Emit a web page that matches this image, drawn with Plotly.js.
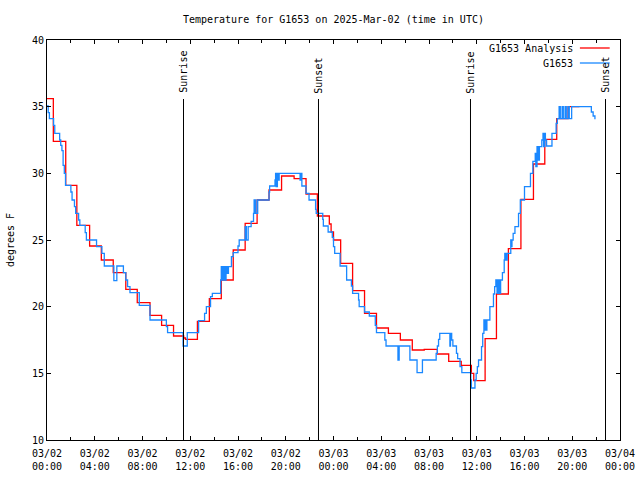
<!DOCTYPE html>
<html>
<head>
<meta charset="utf-8">
<script src="https://cdn.plot.ly/plotly-3.0.1.min.js"></script>
<style>html,body{margin:0;padding:0;background:#fff;}#chart{width:640px;height:480px;}</style>
</head>
<body>
<div id="chart"></div>
<script>
// Hours since 2025-03-02 00:00 UTC
var obsHours = [0.00,0.10,0.20,0.55,0.65,1.06,1.15,1.25,1.35,1.45,1.55,2.00,2.10,2.30,2.40,2.65,2.75,3.20,3.30,4.15,4.60,4.80,5.60,5.85,6.40,6.60,6.75,6.95,7.73,8.63,10.00,10.10,11.40,11.75,12.70,13.20,13.35,13.70,13.85,14.55,14.60,14.70,14.80,14.90,15.00,15.10,15.20,15.45,15.60,16.00,16.10,16.60,16.70,16.85,17.10,17.30,17.35,17.40,17.45,17.50,17.65,18.60,18.65,19.10,19.15,19.20,19.30,19.35,19.45,21.20,21.25,21.35,21.70,21.95,22.50,22.55,23.10,23.15,23.55,23.90,24.00,24.10,24.55,25.10,25.50,25.60,26.10,26.15,26.60,27.00,27.50,27.60,28.30,28.40,29.40,29.50,30.40,31.00,31.45,32.60,32.70,32.80,32.90,33.75,33.80,33.90,34.00,34.30,34.40,34.60,34.75,35.50,35.55,35.85,35.95,36.05,36.15,36.40,36.50,36.60,36.65,36.75,36.80,36.85,37.10,37.40,37.50,37.60,37.70,37.80,37.90,38.00,38.15,38.30,38.35,38.45,38.55,38.85,38.90,38.95,39.05,39.20,39.50,39.65,40.00,40.50,40.70,40.90,40.95,41.05,41.15,41.25,41.45,41.55,41.60,41.70,41.75,41.85,42.30,42.65,42.75,42.90,43.00,43.15,43.25,43.40,43.50,43.65,43.75,43.95,45.60,45.75,45.90];
var obsTemps = [35.05,34.55,34.10,33.60,33.00,32.50,32.10,31.70,30.60,30.00,29.10,28.60,28.00,27.50,27.00,26.50,26.10,25.55,25.00,24.50,24.00,23.05,21.95,23.05,22.55,22.00,21.50,21.05,20.10,19.00,18.50,18.05,17.05,18.05,18.95,19.50,20.00,20.75,21.00,22.00,23.00,22.00,23.00,22.00,23.00,22.50,23.00,23.75,24.05,24.55,25.00,26.00,25.00,26.00,26.40,27.00,28.00,27.00,28.00,27.00,28.00,28.60,29.05,29.50,30.00,29.00,30.00,29.50,30.00,29.50,30.00,29.05,28.50,28.00,27.30,27.00,26.55,26.05,25.60,25.20,24.50,24.00,23.05,22.00,21.55,21.00,20.50,20.00,19.60,19.30,18.60,18.05,17.50,17.05,16.00,17.05,16.00,15.05,16.00,16.50,17.05,17.55,18.00,17.05,18.00,17.50,17.05,16.50,16.10,15.50,15.05,14.50,13.90,14.50,15.00,15.50,16.00,17.00,18.00,19.00,18.25,19.00,18.25,19.00,20.00,20.95,21.50,22.00,21.00,22.00,21.00,22.00,22.55,23.50,24.00,23.50,24.00,25.00,24.50,25.00,25.50,26.00,27.00,28.00,29.00,30.00,30.90,31.50,30.50,32.00,31.00,32.00,32.50,33.00,32.00,33.00,32.50,32.05,33.00,33.75,34.10,35.00,34.10,35.00,34.10,35.00,34.10,35.00,34.10,35.00,34.60,34.30,34.05];

var anaHours = [0.00,0.53,1.57,2.50,3.57,4.55,5.55,6.60,7.56,8.63,9.60,10.60,11.45,11.60,12.60,13.60,14.60,15.60,16.60,17.60,18.60,19.65,20.70,21.70,22.65,23.65,23.80,24.00,24.60,25.60,26.60,27.60,28.60,29.60,30.60,31.60,32.70,33.65,34.70,35.55,35.75,36.70,37.65,38.65,39.70,40.75,41.70,42.70,43.65,44.60];
var anaTemps = [35.6,32.4,29.1,26.1,24.55,23.5,22.55,21.3,20.3,19.35,18.6,17.8,17.65,17.55,18.9,20.6,22.0,24.25,26.25,28.0,28.75,29.8,29.6,28.45,26.8,26.2,25.6,25.0,23.25,21.2,19.5,18.4,18.0,17.5,16.75,16.8,16.45,15.9,15.6,15.0,14.45,17.6,20.95,24.35,28.05,30.7,32.55,34.1,35.0,35.0];

var sunLabels = ['Sunrise','Sunset','Sunrise','Sunset'];
var sunHours = [11.435, 22.743, 35.476, 46.785];

var seriesNames = ['G1653 Analysis', 'G1653'];
var seriesColors = ['#ff0000', '#1a88ff'];

var base = Date.UTC(2025, 2, 2, 0, 0, 0);
var H = 3600000;
function toMs(arr){ return arr.map(function(h){ return base + h*H; }); }

var FONT = 'DejaVu Sans Mono, monospace';

var traces = [
  {x: toMs(anaHours), y: anaTemps, type:'scatter', mode:'lines', line:{shape:'hv', color:seriesColors[0], width:1.3}, name:seriesNames[0], showlegend:false},
  {x: toMs(obsHours), y: obsTemps, type:'scatter', mode:'lines', line:{shape:'hv', color:seriesColors[1], width:1.3}, name:seriesNames[1], showlegend:false},
  // invisible helper so the second (time-of-day) label axis is drawn
  {x: [base, base+48*H], y:[10,10], xaxis:'x2', yaxis:'y', type:'scatter', mode:'none', showlegend:false, hoverinfo:'skip'}
];

var shapes = [];
var annotations = [];
sunHours.forEach(function(h, i){
  shapes.push({type:'line', xref:'x', yref:'paper', x0:base+h*H, x1:base+h*H, y0:0, y1:0.8525, line:{color:'#000', width:1}});
  annotations.push({xref:'x', yref:'paper', x:base+h*H, y:0.862, text:sunLabels[i], textangle:-90, showarrow:false, xanchor:'center', yanchor:'bottom', font:{family:FONT, size:10, color:'#000'}});
});
// legend (drawn manually, gnuplot style)
seriesNames.forEach(function(n, i){
  var yp = 0.98 - i*0.0375;
  annotations.push({xref:'paper', yref:'paper', x:0.921, y:yp, text:n, showarrow:false, xanchor:'right', yanchor:'middle', font:{family:FONT, size:10, color:'#000'}});
  shapes.push({type:'line', xref:'paper', yref:'paper', x0:0.930, x1:0.982, y0:yp, y1:yp, line:{color:seriesColors[i], width:1.3}});
});

var layout = {
  width:640, height:480,
  margin:{l:47, r:20, t:40, b:40, pad:0},
  paper_bgcolor:'#fff', plot_bgcolor:'#fff',
  font:{family:FONT, size:10, color:'#000'},
  title:{text:'Temperature for G1653 on 2025-Mar-02 (time in UTC)', x:0.521, xanchor:'center', y:0.96, yanchor:'middle', font:{family:FONT, size:10, color:'#000'}},
  showlegend:false,
  xaxis:{
    type:'date', range:[base, base+48*H],
    tickmode:'linear', tick0:base, dtick:4*H, tickformat:'%m/%d',
    ticks:'inside', ticklen:4, tickcolor:'#000', tickwidth:1,
    minor:{dtick:2*H, tick0:base, ticks:'inside', ticklen:3, tickcolor:'#000'},
    showline:true, linecolor:'#000', linewidth:1, mirror:'ticks',
    showgrid:false, zeroline:false, fixedrange:true,
    ticklabelstandoff:4,
    tickfont:{family:FONT, size:10, color:'#000'}
  },
  xaxis2:{
    type:'date', range:[base, base+48*H], overlaying:'x', side:'bottom', anchor:'y',
    tickmode:'linear', tick0:base, dtick:4*H, tickformat:'%H:%M',
    ticks:'', showline:false, showgrid:false, zeroline:false, fixedrange:true,
    ticklabelstandoff:19,
    tickfont:{family:FONT, size:10, color:'#000'}
  },
  yaxis:{
    range:[10,40], tickmode:'linear', tick0:10, dtick:5,
    ticks:'inside', ticklen:4, tickcolor:'#000', tickwidth:1,
    showline:true, linecolor:'#000', linewidth:1, mirror:'ticks',
    showgrid:false, zeroline:false, fixedrange:true,
    title:{text:'degrees F', font:{family:FONT, size:10, color:'#000'}, standoff:15},
    tickfont:{family:FONT, size:10, color:'#000'}
  },
  shapes:shapes,
  annotations:annotations
};

Plotly.newPlot('chart', traces, layout, {staticPlot:true, displayModeBar:false});
</script>
</body>
</html>
